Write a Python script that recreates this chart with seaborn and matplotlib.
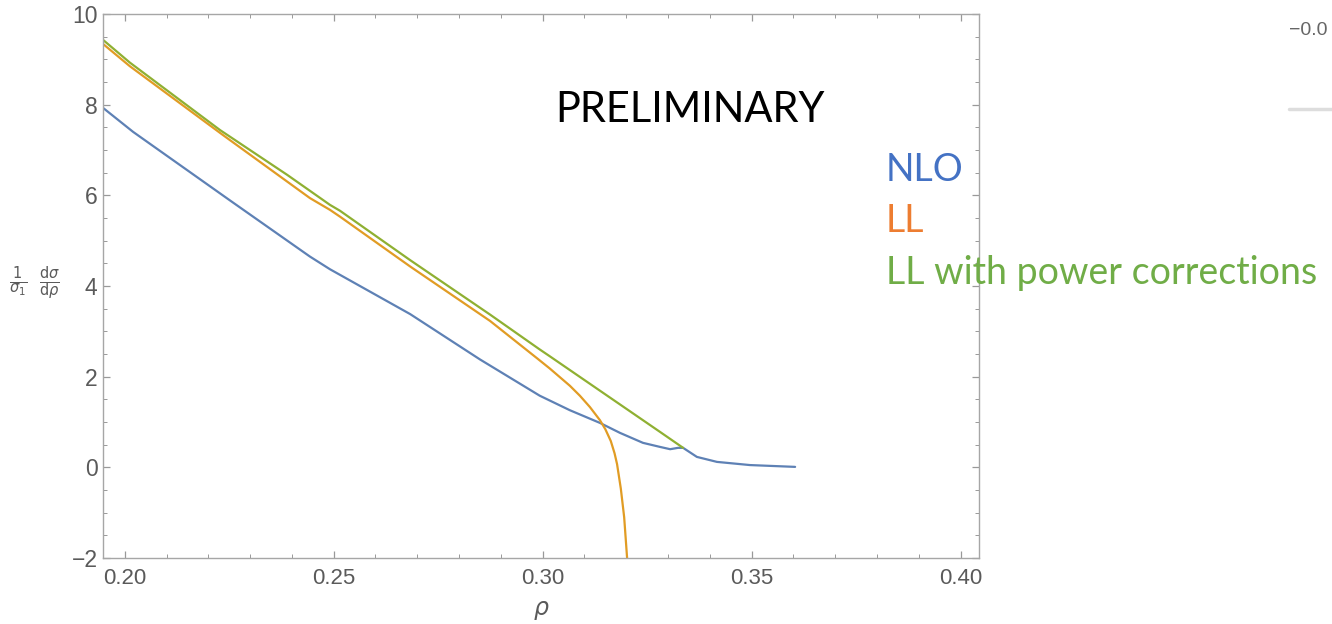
import numpy as np
import pandas as pd
import seaborn as sns
import matplotlib.pyplot as plt
from matplotlib.ticker import MultipleLocator

# values
rho_nlo = [0.1948, 0.2020, 0.2253, 0.2443, 0.2491, 0.2683, 0.2850, 0.2993, 0.3065,
           0.3137, 0.3185, 0.3240, 0.3281, 0.3305, 0.3324, 0.3336, 0.3369, 0.3417,
           0.3496, 0.3604]
val_nlo = [7.93, 7.40, 5.88, 4.65, 4.37, 3.38, 2.38, 1.58, 1.26,
           0.98, 0.76, 0.54, 0.45, 0.40, 0.43, 0.43, 0.23, 0.12,
           0.05, 0.01]

rho_ll = [0.1948, 0.2012, 0.2235, 0.2443, 0.2491, 0.2515, 0.2683, 0.2874, 0.2986,
          0.3017, 0.3041, 0.3065, 0.3089, 0.3113, 0.3137, 0.3150, 0.3163, 0.3172,
          0.3178, 0.3187, 0.3195, 0.3202]
val_ll = [9.34, 8.85, 7.33, 5.94, 5.68, 5.53, 4.43, 3.23, 2.41,
          2.18, 1.99, 1.80, 1.58, 1.33, 1.04, 0.84, 0.58, 0.31,
          0.07, -0.47, -1.10, -2.0]

rho_pc = [0.1948, 0.2012, 0.2228, 0.2389, 0.2491, 0.2515, 0.2683, 0.2874, 0.2993,
          0.3017, 0.3281, 0.3336]
val_pc = [9.43, 8.93, 7.44, 6.45, 5.79, 5.66, 4.57, 3.37, 2.60,
          2.45, 0.78, 0.43]

curve_names = ["NLO", "LL", "LL with power corrections"]
line_colors = ["#5E81B5", "#E19C24", "#8FB032"]
label_colors = ["#4472C4", "#ED7D31", "#70AD47"]

x_ticks = [0.20, 0.25, 0.30, 0.35, 0.40]
y_ticks = [-2, 0, 2, 4, 6, 8, 10]

df = pd.concat([
    pd.DataFrame({"rho": rho_nlo, "value": val_nlo, "curve": curve_names[0]}),
    pd.DataFrame({"rho": rho_ll, "value": val_ll, "curve": curve_names[1]}),
    pd.DataFrame({"rho": rho_pc, "value": val_pc, "curve": curve_names[2]}),
])

sns.set_style("ticks")
plt.rcParams['font.family'] = ['Liberation Sans', 'DejaVu Sans']

W, H = 1332, 624
fig = plt.figure(figsize=(W / 100, H / 100), dpi=100)
ax = fig.add_axes([103 / W, 1 - 558 / H, (979 - 103) / W, (558 - 14) / H])

sns.lineplot(data=df, x="rho", y="value", hue="curve", hue_order=curve_names,
             palette=line_colors, sort=False, estimator=None, legend=False,
             linewidth=1.6, ax=ax)

ax.set_xlim(0.1948, 0.4044)
ax.set_ylim(-2, 10)
ax.set_xticks(x_ticks)
ax.set_xticklabels([f"{t:.2f}" for t in x_ticks])
ax.set_yticks(y_ticks)
ax.set_yticklabels([str(t).replace("-", "\u2212") for t in y_ticks])
ax.xaxis.set_minor_locator(MultipleLocator(0.01))
ax.yaxis.set_minor_locator(MultipleLocator(0.5))

grey = "#5a5a5a"
for sp in ax.spines.values():
    sp.set_color("#a6a6a6")
    sp.set_linewidth(1.0)
ax.tick_params(which="both", direction="in", top=True, right=True, color="#999999")
ax.tick_params(which="major", length=5, width=0.9)
ax.tick_params(which="minor", length=3, width=0.7)
ax.tick_params(axis="y", labelsize=16.5, labelcolor=grey, pad=4)
ax.tick_params(axis="x", labelsize=16, labelcolor=grey, pad=7)

ax.set_xlabel("")
ax.set_ylabel("")

# axis labels, placed like the exported frame
fig.text(541 / W, 1 - 610 / H, r"$\rho$", fontsize=17, color=grey, ha="center", va="center")
fig.text(35 / W, 1 - 283 / H, r"$\frac{1}{\sigma_1}\;\;\frac{\mathrm{d}\sigma}{\mathrm{d}\rho}$",
         fontsize=15, color=grey, ha="center", va="center")

# slide annotations
fig.text(555 / W, 1 - 122 / H, "PRELIMINARY", fontsize=30, family="Lato",
         color="black", va="baseline")
for name, col, base in zip(curve_names, label_colors, [181, 232, 284]):
    fig.text(886 / W, 1 - base / H, name, fontsize=27, family="Lato",
             color=col, va="baseline")

# cut-off bits of a neighbouring plot at the top right
fig.text(1289 / W, 1 - 35 / H, "\u22120.0", fontsize=14, color="#666666", va="baseline")
fig.add_artist(plt.Line2D([1289 / W, 1.0], [1 - 109 / H, 1 - 109 / H],
                          color="#dddddd", linewidth=2.5))

fig.savefig("out.png", dpi=100)
